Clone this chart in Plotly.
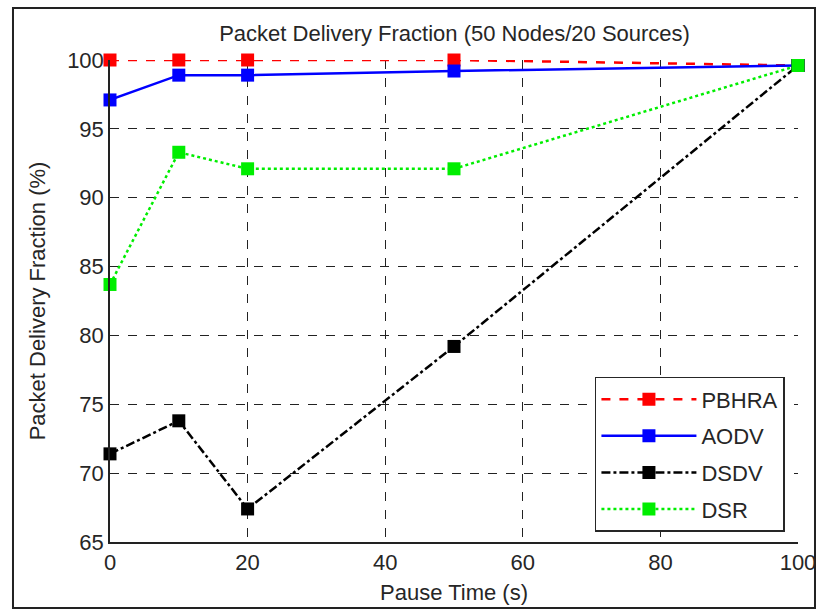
import plotly.graph_objects as go

pause_time = [0, 10, 20, 50, 100]
pbhra = [100.0, 100.0, 100.0, 100.0, 99.6]
aodv = [97.1, 98.9, 98.9, 99.2, 99.6]
dsdv = [71.4, 73.8, 67.4, 79.2, 99.6]
dsr = [83.7, 93.3, 92.1, 92.1, 99.6]

series = [
    ("PBHRA", pbhra, "#ff0000", "dash"),
    ("AODV", aodv, "#0000ff", "solid"),
    ("DSDV", dsdv, "#000000", "dashdot"),
    ("DSR", dsr, "#00ee00", "dot"),
]

fig = go.Figure()
for name, vals, col, dash in series:
    fig.add_trace(go.Scatter(
        x=pause_time, y=vals, name=name, mode="lines+markers",
        legendgroup=name,
        line=dict(color=col, width=2.5, dash=dash),
        marker=dict(symbol="square", size=13, color=col),
        cliponaxis=False,
    ))

font = "Liberation Sans, Arial, sans-serif"
txt = "#262626"
fig.update_layout(
    width=819, height=612,
    margin=dict(l=110, r=21, t=60, b=70),
    paper_bgcolor="white", plot_bgcolor="white",
    font=dict(family=font, size=22, color=txt),
    title=dict(text="Packet Delivery Fraction (50 Nodes/20 Sources)", x=0.555, xanchor="center",
               y=0.946, yanchor="middle", font=dict(size=22, color=txt)),
    showlegend=True,
    legend=dict(x=0.981, y=0.021, xanchor="right", yanchor="bottom",
                bordercolor=txt, borderwidth=1.5, bgcolor="white",
                font=dict(size=22), tracegroupgap=5, itemwidth=95),
    xaxis=dict(range=[0, 100], tickvals=[0, 20, 40, 60, 80, 100],
               showgrid=True, gridcolor="#222222", griddash="dash", gridwidth=1,
               showline=True, linecolor="#222222", linewidth=1.5,
               zeroline=False, ticks="", tickfont=dict(size=22), automargin=False,
               title=dict(text="Pause Time (s)", standoff=10, font=dict(size=22))),
    yaxis=dict(range=[65, 100], tickvals=[65, 70, 75, 80, 85, 90, 95, 100],
               showgrid=True, gridcolor="#222222", griddash="dash", gridwidth=1,
               showline=True, linecolor="#222222", linewidth=1.5,
               zeroline=False, ticks="", tickfont=dict(size=22), automargin=False,
               title=dict(text="Packet Delivery Fraction (%)", standoff=15, font=dict(size=22))),
    shapes=[dict(type="rect", xref="paper", yref="paper",
                 x0=-0.141, x1=1.0247, y0=-0.137, y1=1.108,
                 line=dict(color="#222222", width=2), layer="below")],
)

fig.write_html("out.html")
